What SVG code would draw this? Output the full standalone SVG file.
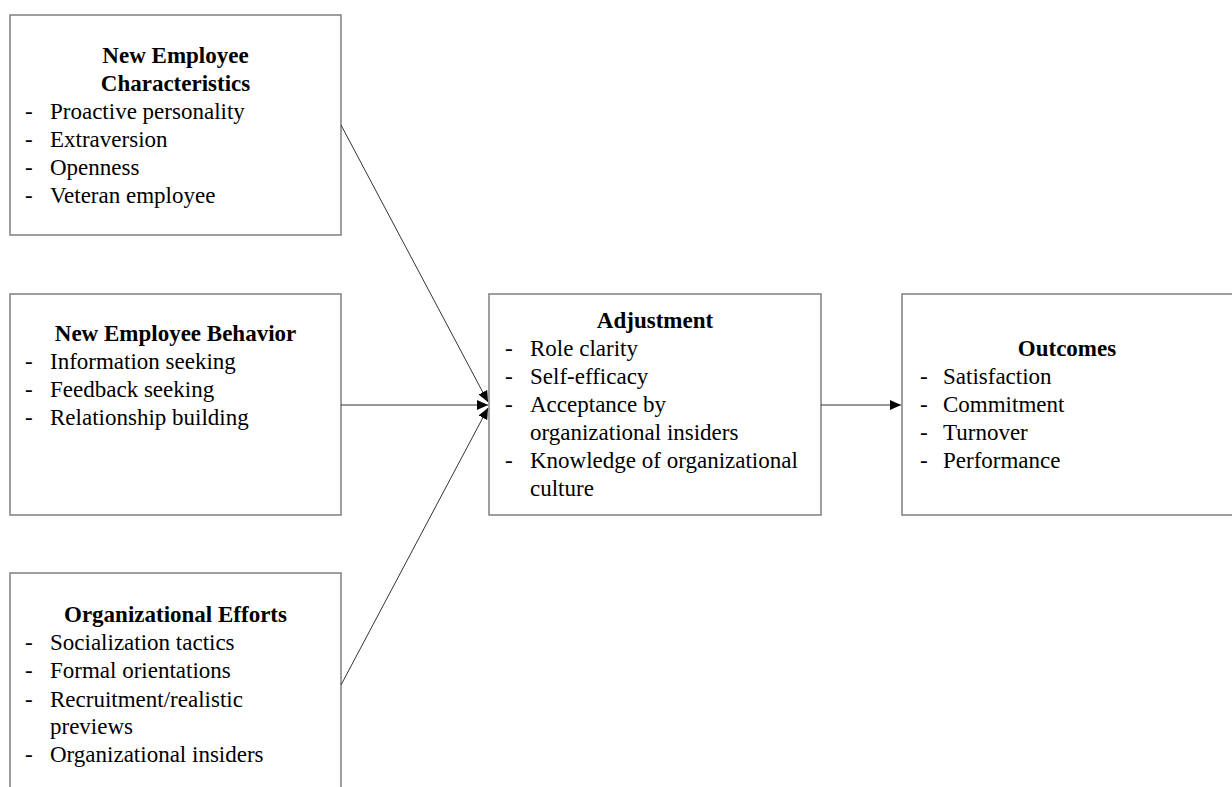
<svg xmlns="http://www.w3.org/2000/svg" width="1232" height="787" viewBox="0 0 1232 787">
<defs>
<marker id="arr" viewBox="0 0 10 10" refX="10" refY="5" markerWidth="11" markerHeight="11" markerUnits="userSpaceOnUse" orient="auto">
<path d="M0,0.5 L10,5 L0,9.5 z" fill="#000"/>
</marker>
<style>
.box{fill:#fff;stroke:#7f7f7f;stroke-width:1.5}
text{font-family:"Liberation Serif","Times New Roman",serif;font-size:23px;fill:#000}
.t{font-weight:bold;text-anchor:middle}
.c{stroke:#333;stroke-width:1;fill:none;marker-end:url(#arr)}
</style>
</defs>
<rect width="1232" height="787" fill="#fff"/>
<g id="characteristics">
<rect class="box" x="10" y="15" width="331" height="220"/>
<text class="t" x="175.5" y="63">New Employee</text>
<text class="t" x="175.5" y="91">Characteristics</text>
<text x="25" y="119">-</text><text x="50" y="119">Proactive personality</text>
<text x="25" y="147">-</text><text x="50" y="147">Extraversion</text>
<text x="25" y="175">-</text><text x="50" y="175">Openness</text>
<text x="25" y="203">-</text><text x="50" y="203">Veteran employee</text>
</g>
<g id="behavior">
<rect class="box" x="10" y="294" width="331" height="221"/>
<text class="t" x="175.5" y="341">New Employee Behavior</text>
<text x="25" y="369">-</text><text x="50" y="369">Information seeking</text>
<text x="25" y="397">-</text><text x="50" y="397">Feedback seeking</text>
<text x="25" y="425">-</text><text x="50" y="425">Relationship building</text>
</g>
<g id="efforts">
<rect class="box" x="10" y="573" width="331" height="240"/>
<text class="t" x="175.5" y="622">Organizational Efforts</text>
<text x="25" y="650">-</text><text x="50" y="650">Socialization tactics</text>
<text x="25" y="678">-</text><text x="50" y="678">Formal orientations</text>
<text x="25" y="707">-</text><text x="50" y="707">Recruitment/realistic</text>
<text x="50" y="734">previews</text>
<text x="25" y="762">-</text><text x="50" y="762">Organizational insiders</text>
</g>
<g id="adjustment">
<rect class="box" x="489" y="294" width="332" height="221"/>
<text class="t" x="655" y="328">Adjustment</text>
<text x="505" y="356">-</text><text x="530" y="356">Role clarity</text>
<text x="505" y="384">-</text><text x="530" y="384">Self-efficacy</text>
<text x="505" y="412">-</text><text x="530" y="412">Acceptance by</text>
<text x="530" y="440">organizational insiders</text>
<text x="505" y="468">-</text><text x="530" y="468">Knowledge of organizational</text>
<text x="530" y="496">culture</text>
</g>
<g id="outcomes">
<rect class="box" x="902" y="294" width="340" height="221"/>
<text class="t" x="1067" y="356">Outcomes</text>
<text x="920" y="384">-</text><text x="943" y="384">Satisfaction</text>
<text x="920" y="412">-</text><text x="943" y="412">Commitment</text>
<text x="920" y="440">-</text><text x="943" y="440">Turnover</text>
<text x="920" y="468">-</text><text x="943" y="468">Performance</text>
</g>
<g id="connectors">
<line class="c" x1="341" y1="125" x2="488" y2="402"/>
<line class="c" x1="341" y1="405" x2="488" y2="405"/>
<line class="c" x1="341" y1="685" x2="488" y2="408"/>
<line class="c" x1="821" y1="405" x2="901" y2="405"/>
</g>
</svg>
